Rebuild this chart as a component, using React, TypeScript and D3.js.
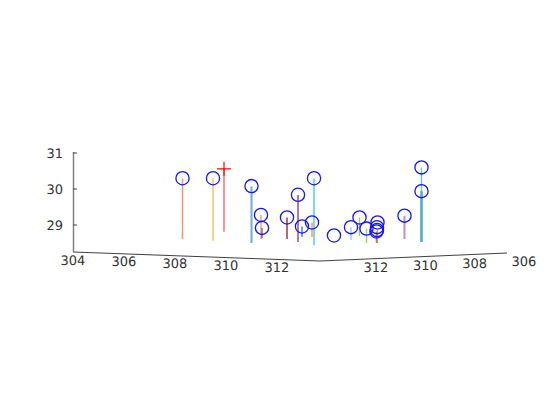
import React from "react";
import * as d3 from "d3";

// Horizontal position in the projected view, and stem heights
const viewPos = [-5.5, -4.28, -2.74, -2.36, -2.32, -1.32, -0.88, -0.72, -0.32, -0.24, 0.56, 1.24, 1.58, 1.86, 2.3, 2.28, 2.28, 2.26, 3.38, 4.06, 4.06];
const circleZ = [30.3, 30.3, 30.08, 29.28, 28.92, 29.21, 29.84, 28.96, 29.07, 30.3, 28.71, 28.94, 29.21, 28.9, 29.07, 28.94, 28.86, 28.82, 29.26, 30.6, 29.94];
const stemTop = [30.29, 30.29, 30.07, 29.28, 28.92, 29.21, 29.83, 28.96, 29.07, 30.29, 28.71, 28.94, 29.21, 28.9, 28.86, 28.94, 28.86, 28.82, 29.26, 30.6, 29.94];
const stemBase = [28.61, 28.56, 28.5, 28.61, 28.64, 28.61, 28.53, 28.67, 28.67, 28.44, 28.71, 28.58, 28.69, 28.5, 28.5, 28.94, 28.5, 28.5, 28.61, 28.53, 28.53];
const stemColor = ["#f0956f", "#f6c56b", "#6aaedc", "#dc9068", "#a83c46", "#a83246", "#8c4caa", "#2b92ca", "#f0aa30", "#55caf2", "none", "#92d9f1", "#a3c985", "#a3cd72", "#9cc070", "none", "none", "#e0702e", "#b892c8", "#72c2f0", "#52aad9"];
const stemWidth = [1.5, 1.5, 2, 1.2, 1.2, 1.5, 1.5, 1.5, 1.5, 1.5, 0, 1.5, 1.5, 1.5, 1, 0, 0, 1.5, 2, 1.5, 2.5];
const crossPos = [-3.84];
const crossZ = [30.56];
const crossBase = [28.81];

const zTicks = [29, 30, 31];
const leftTicks = [304, 306, 308, 310, 312];
const rightTicks = [306, 308, 310, 312];

const W = 560;
const H = 420;
const xView = d3.scaleLinear().domain([-10, 10]).range([70, 570]);
const yZ = d3.scaleLinear().domain([29, 31]).range([225, 153]);
const leftX = d3.scaleLinear().domain([304, 312]).range([73, 277]);
const leftY = d3.scaleLinear().domain([304, 312]).range([260, 267]);
const rightX = d3.scaleLinear().domain([306, 312]).range([524, 376]);
const rightY = d3.scaleLinear().domain([306, 312]).range([261, 267]);
const labelColor = "#333333";
const axisColor = "#404040";

export default function App() {
  return (
    <svg
      width={W}
      height={H}
      style={{ position: "absolute", left: 0, top: 0, background: "#fff" }}
      fontFamily="DejaVu Sans"
      fontSize={13}
      textRendering="geometricPrecision"
    >
      <polyline points="73,252 320,261 507,253" fill="none" stroke={axisColor} strokeWidth={1} />
      <line x1={73.5} x2={73.5} y1={152} y2={252} stroke="#808080" strokeWidth={1.5} />
      {zTicks.map((t) => (
        <g key={t}>
          <line x1={73} x2={77} y1={yZ(t)} y2={yZ(t)} stroke={axisColor} strokeWidth={1} />
          <text x={63} y={yZ(t)} dy="0.35em" textAnchor="end" fill={labelColor}>{t}</text>
        </g>
      ))}
      {leftTicks.map((t) => (
        <text key={t} x={leftX(t)} y={leftY(t)} dy="0.35em" textAnchor="middle" fill={labelColor}>{t}</text>
      ))}
      {rightTicks.map((t) => (
        <text key={t} x={rightX(t)} y={rightY(t)} dy="0.35em" textAnchor="middle" fill={labelColor}>{t}</text>
      ))}
      {viewPos.map((u, i) =>
        stemColor[i] === "none" ? null : (
          <line key={`s${i}`} x1={xView(u)} x2={xView(u)} y1={yZ(stemTop[i])} y2={yZ(stemBase[i])} stroke={stemColor[i]} strokeWidth={stemWidth[i]} />
        )
      )}
      {crossPos.map((u, i) => (
        <g key={`c${i}`}>
          <line x1={xView(u)} x2={xView(u)} y1={yZ(crossZ[i])} y2={yZ(crossBase[i])} stroke="#ff6b72" strokeWidth={1.5} />
          <line x1={xView(u) - 7} x2={xView(u) + 7} y1={yZ(crossZ[i])} y2={yZ(crossZ[i])} stroke="#f00" strokeWidth={1.2} />
          <line x1={xView(u)} x2={xView(u)} y1={yZ(crossZ[i]) - 7} y2={yZ(crossZ[i]) + 7} stroke="#f00" strokeWidth={1.2} />
        </g>
      ))}
      {viewPos.map((u, i) => (
        <circle key={`p${i}`} cx={xView(u)} cy={yZ(circleZ[i])} r={6.6} fill="none" stroke="#1414ff" strokeWidth={1.3} />
      ))}
    </svg>
  );
}
